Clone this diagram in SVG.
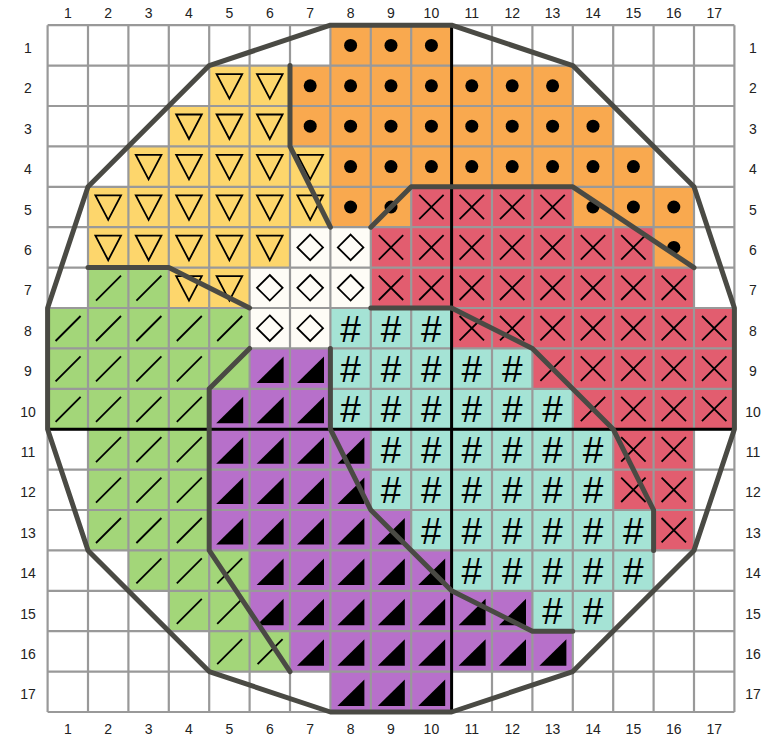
<svg xmlns="http://www.w3.org/2000/svg" xmlns:xlink="http://www.w3.org/1999/xlink" width="779" height="739" viewBox="0 0 779 739">
<style>
.o{fill:#F9A94F}.y{fill:#FDD66C}.r{fill:#E25D6F}.g{fill:#A3D679}.p{fill:#B770CA}.t{fill:#A5E3D5}.w{fill:#FEFCF6}
.ol{fill:none;stroke:#000;stroke-width:1.8;stroke-linejoin:miter}
.ln{fill:none;stroke:#000;stroke-width:1.8}
.grid{fill:none;stroke:#999;stroke-width:2.2}
.axis{fill:none;stroke:#000;stroke-width:3}
.bd{fill:none;stroke:#4A4A44;stroke-width:5;stroke-linejoin:round;stroke-linecap:round}
.h{font-family:"Liberation Sans",Arial,sans-serif;font-size:37px;text-anchor:middle;fill:#000}
.lb{font-family:"Liberation Sans",Arial,sans-serif;font-size:14px;text-anchor:middle;fill:#222}
</style>
<defs>
<circle id="dot" cx="20.2" cy="20.2" r="6.5" fill="#000"/>
<polygon id="tri" class="ol" points="7.4,8.5 33,8.5 20.2,33"/>
<path id="xx" class="ln" d="M8,8L32.4,32.4M32.4,8L8,32.4"/>
<path id="sl" class="ln" d="M8,33L33,8"/>
<polygon id="rt" points="7,34.5 34,34.5 34,8" fill="#000"/>
<polygon id="dm" class="ol" points="20.2,7.4 33,20.2 20.2,33 7.4,20.2"/>
</defs>
<rect width="779" height="739" fill="#fff"/>
<g id="fills">
<rect class="o" x="330.4" y="25.2" width="121.2" height="40.4"/>
<rect class="y" x="209.2" y="65.6" width="80.8" height="40.4"/><rect class="o" x="290" y="65.6" width="282.8" height="40.4"/>
<rect class="y" x="168.8" y="106" width="121.2" height="40.4"/><rect class="o" x="290" y="106" width="323.2" height="40.4"/>
<rect class="y" x="128.4" y="146.4" width="202" height="40.4"/><rect class="o" x="330.4" y="146.4" width="323.2" height="40.4"/>
<rect class="y" x="88" y="186.8" width="242.4" height="40.4"/><rect class="o" x="330.4" y="186.8" width="80.8" height="40.4"/><rect class="r" x="411.2" y="186.8" width="161.6" height="40.4"/><rect class="o" x="572.8" y="186.8" width="121.2" height="40.4"/>
<rect class="y" x="88" y="227.2" width="202" height="40.4"/><rect class="w" x="290" y="227.2" width="80.8" height="40.4"/><rect class="r" x="370.8" y="227.2" width="282.8" height="40.4"/><rect class="o" x="653.6" y="227.2" width="40.4" height="40.4"/>
<rect class="g" x="88" y="267.6" width="80.8" height="40.4"/><rect class="y" x="168.8" y="267.6" width="80.8" height="40.4"/><rect class="w" x="249.6" y="267.6" width="121.2" height="40.4"/><rect class="r" x="370.8" y="267.6" width="323.2" height="40.4"/>
<rect class="g" x="47.6" y="308" width="202" height="40.4"/><rect class="w" x="249.6" y="308" width="80.8" height="40.4"/><rect class="t" x="330.4" y="308" width="121.2" height="40.4"/><rect class="r" x="451.6" y="308" width="282.8" height="40.4"/>
<rect class="g" x="47.6" y="348.4" width="202" height="40.4"/><rect class="p" x="249.6" y="348.4" width="80.8" height="40.4"/><rect class="t" x="330.4" y="348.4" width="202" height="40.4"/><rect class="r" x="532.4" y="348.4" width="202" height="40.4"/>
<rect class="g" x="47.6" y="388.8" width="161.6" height="40.4"/><rect class="p" x="209.2" y="388.8" width="121.2" height="40.4"/><rect class="t" x="330.4" y="388.8" width="242.4" height="40.4"/><rect class="r" x="572.8" y="388.8" width="161.6" height="40.4"/>
<rect class="g" x="88" y="429.2" width="121.2" height="40.4"/><rect class="p" x="209.2" y="429.2" width="161.6" height="40.4"/><rect class="t" x="370.8" y="429.2" width="242.4" height="40.4"/><rect class="r" x="613.2" y="429.2" width="80.8" height="40.4"/>
<rect class="g" x="88" y="469.6" width="121.2" height="40.4"/><rect class="p" x="209.2" y="469.6" width="161.6" height="40.4"/><rect class="t" x="370.8" y="469.6" width="242.4" height="40.4"/><rect class="r" x="613.2" y="469.6" width="80.8" height="40.4"/>
<rect class="g" x="88" y="510" width="121.2" height="40.4"/><rect class="p" x="209.2" y="510" width="202" height="40.4"/><rect class="t" x="411.2" y="510" width="242.4" height="40.4"/><rect class="r" x="653.6" y="510" width="40.4" height="40.4"/>
<rect class="g" x="128.4" y="550.4" width="121.2" height="40.4"/><rect class="p" x="249.6" y="550.4" width="202" height="40.4"/><rect class="t" x="451.6" y="550.4" width="202" height="40.4"/>
<rect class="g" x="168.8" y="590.8" width="80.8" height="40.4"/><rect class="p" x="249.6" y="590.8" width="282.8" height="40.4"/><rect class="t" x="532.4" y="590.8" width="80.8" height="40.4"/>
<rect class="g" x="209.2" y="631.2" width="80.8" height="40.4"/><rect class="p" x="290" y="631.2" width="282.8" height="40.4"/>
<rect class="p" x="330.4" y="671.6" width="121.2" height="40.4"/>
</g>
<path id="grid" class="grid" d="M47.6,25.2V712M88,25.2V712M128.4,25.2V712M168.8,25.2V712M209.2,25.2V712M249.6,25.2V712M290,25.2V712M330.4,25.2V712M370.8,25.2V712M411.2,25.2V712M451.6,25.2V712M492,25.2V712M532.4,25.2V712M572.8,25.2V712M613.2,25.2V712M653.6,25.2V712M694,25.2V712M734.4,25.2V712M47.6,25.2H734.4M47.6,65.6H734.4M47.6,106H734.4M47.6,146.4H734.4M47.6,186.8H734.4M47.6,227.2H734.4M47.6,267.6H734.4M47.6,308H734.4M47.6,348.4H734.4M47.6,388.8H734.4M47.6,429.2H734.4M47.6,469.6H734.4M47.6,510H734.4M47.6,550.4H734.4M47.6,590.8H734.4M47.6,631.2H734.4M47.6,671.6H734.4M47.6,712H734.4"/>
<g id="orange-dots">
<use href="#dot" x="330.4" y="25.2"/><use href="#dot" x="370.8" y="25.2"/><use href="#dot" x="411.2" y="25.2"/>
<use href="#dot" x="290" y="65.6"/><use href="#dot" x="330.4" y="65.6"/><use href="#dot" x="370.8" y="65.6"/><use href="#dot" x="411.2" y="65.6"/><use href="#dot" x="451.6" y="65.6"/><use href="#dot" x="492" y="65.6"/><use href="#dot" x="532.4" y="65.6"/>
<use href="#dot" x="290" y="106"/><use href="#dot" x="330.4" y="106"/><use href="#dot" x="370.8" y="106"/><use href="#dot" x="411.2" y="106"/><use href="#dot" x="451.6" y="106"/><use href="#dot" x="492" y="106"/><use href="#dot" x="532.4" y="106"/><use href="#dot" x="572.8" y="106"/>
<use href="#dot" x="330.4" y="146.4"/><use href="#dot" x="370.8" y="146.4"/><use href="#dot" x="411.2" y="146.4"/><use href="#dot" x="451.6" y="146.4"/><use href="#dot" x="492" y="146.4"/><use href="#dot" x="532.4" y="146.4"/><use href="#dot" x="572.8" y="146.4"/><use href="#dot" x="613.2" y="146.4"/>
<use href="#dot" x="330.4" y="186.8"/><use href="#dot" x="370.8" y="186.8"/><use href="#dot" x="572.8" y="186.8"/><use href="#dot" x="613.2" y="186.8"/><use href="#dot" x="653.6" y="186.8"/>
<use href="#dot" x="653.6" y="227.2"/>
</g>
<g id="yellow-triangles">
<use href="#tri" x="209.2" y="65.6"/><use href="#tri" x="249.6" y="65.6"/>
<use href="#tri" x="168.8" y="106"/><use href="#tri" x="209.2" y="106"/><use href="#tri" x="249.6" y="106"/>
<use href="#tri" x="128.4" y="146.4"/><use href="#tri" x="168.8" y="146.4"/><use href="#tri" x="209.2" y="146.4"/><use href="#tri" x="249.6" y="146.4"/><use href="#tri" x="290" y="146.4"/>
<use href="#tri" x="88" y="186.8"/><use href="#tri" x="128.4" y="186.8"/><use href="#tri" x="168.8" y="186.8"/><use href="#tri" x="209.2" y="186.8"/><use href="#tri" x="249.6" y="186.8"/><use href="#tri" x="290" y="186.8"/>
<use href="#tri" x="88" y="227.2"/><use href="#tri" x="128.4" y="227.2"/><use href="#tri" x="168.8" y="227.2"/><use href="#tri" x="209.2" y="227.2"/><use href="#tri" x="249.6" y="227.2"/>
<use href="#tri" x="168.8" y="267.6"/><use href="#tri" x="209.2" y="267.6"/>
</g>
<g id="white-diamonds">
<use href="#dm" x="290" y="227.2"/><use href="#dm" x="330.4" y="227.2"/>
<use href="#dm" x="249.6" y="267.6"/><use href="#dm" x="290" y="267.6"/><use href="#dm" x="330.4" y="267.6"/>
<use href="#dm" x="249.6" y="308"/><use href="#dm" x="290" y="308"/>
</g>
<g id="red-crosses">
<use href="#xx" x="411.2" y="186.8"/><use href="#xx" x="451.6" y="186.8"/><use href="#xx" x="492" y="186.8"/><use href="#xx" x="532.4" y="186.8"/>
<use href="#xx" x="370.8" y="227.2"/><use href="#xx" x="411.2" y="227.2"/><use href="#xx" x="451.6" y="227.2"/><use href="#xx" x="492" y="227.2"/><use href="#xx" x="532.4" y="227.2"/><use href="#xx" x="572.8" y="227.2"/><use href="#xx" x="613.2" y="227.2"/>
<use href="#xx" x="370.8" y="267.6"/><use href="#xx" x="411.2" y="267.6"/><use href="#xx" x="451.6" y="267.6"/><use href="#xx" x="492" y="267.6"/><use href="#xx" x="532.4" y="267.6"/><use href="#xx" x="572.8" y="267.6"/><use href="#xx" x="613.2" y="267.6"/><use href="#xx" x="653.6" y="267.6"/>
<use href="#xx" x="451.6" y="308"/><use href="#xx" x="492" y="308"/><use href="#xx" x="532.4" y="308"/><use href="#xx" x="572.8" y="308"/><use href="#xx" x="613.2" y="308"/><use href="#xx" x="653.6" y="308"/><use href="#xx" x="694" y="308"/>
<use href="#xx" x="532.4" y="348.4"/><use href="#xx" x="572.8" y="348.4"/><use href="#xx" x="613.2" y="348.4"/><use href="#xx" x="653.6" y="348.4"/><use href="#xx" x="694" y="348.4"/>
<use href="#xx" x="572.8" y="388.8"/><use href="#xx" x="613.2" y="388.8"/><use href="#xx" x="653.6" y="388.8"/><use href="#xx" x="694" y="388.8"/>
<use href="#xx" x="613.2" y="429.2"/><use href="#xx" x="653.6" y="429.2"/>
<use href="#xx" x="613.2" y="469.6"/><use href="#xx" x="653.6" y="469.6"/>
<use href="#xx" x="653.6" y="510"/>
</g>
<g id="green-slashes">
<use href="#sl" x="88" y="267.6"/><use href="#sl" x="128.4" y="267.6"/>
<use href="#sl" x="47.6" y="308"/><use href="#sl" x="88" y="308"/><use href="#sl" x="128.4" y="308"/><use href="#sl" x="168.8" y="308"/><use href="#sl" x="209.2" y="308"/>
<use href="#sl" x="47.6" y="348.4"/><use href="#sl" x="88" y="348.4"/><use href="#sl" x="128.4" y="348.4"/><use href="#sl" x="168.8" y="348.4"/><use href="#sl" x="209.2" y="348.4"/>
<use href="#sl" x="47.6" y="388.8"/><use href="#sl" x="88" y="388.8"/><use href="#sl" x="128.4" y="388.8"/><use href="#sl" x="168.8" y="388.8"/>
<use href="#sl" x="88" y="429.2"/><use href="#sl" x="128.4" y="429.2"/><use href="#sl" x="168.8" y="429.2"/>
<use href="#sl" x="88" y="469.6"/><use href="#sl" x="128.4" y="469.6"/><use href="#sl" x="168.8" y="469.6"/>
<use href="#sl" x="88" y="510"/><use href="#sl" x="128.4" y="510"/><use href="#sl" x="168.8" y="510"/>
<use href="#sl" x="128.4" y="550.4"/><use href="#sl" x="168.8" y="550.4"/><use href="#sl" x="209.2" y="550.4"/>
<use href="#sl" x="168.8" y="590.8"/><use href="#sl" x="209.2" y="590.8"/>
<use href="#sl" x="209.2" y="631.2"/><use href="#sl" x="249.6" y="631.2"/>
</g>
<g id="purple-triangles">
<use href="#rt" x="249.6" y="348.4"/><use href="#rt" x="290" y="348.4"/>
<use href="#rt" x="209.2" y="388.8"/><use href="#rt" x="249.6" y="388.8"/><use href="#rt" x="290" y="388.8"/>
<use href="#rt" x="209.2" y="429.2"/><use href="#rt" x="249.6" y="429.2"/><use href="#rt" x="290" y="429.2"/><use href="#rt" x="330.4" y="429.2"/>
<use href="#rt" x="209.2" y="469.6"/><use href="#rt" x="249.6" y="469.6"/><use href="#rt" x="290" y="469.6"/><use href="#rt" x="330.4" y="469.6"/>
<use href="#rt" x="209.2" y="510"/><use href="#rt" x="249.6" y="510"/><use href="#rt" x="290" y="510"/><use href="#rt" x="330.4" y="510"/><use href="#rt" x="370.8" y="510"/>
<use href="#rt" x="249.6" y="550.4"/><use href="#rt" x="290" y="550.4"/><use href="#rt" x="330.4" y="550.4"/><use href="#rt" x="370.8" y="550.4"/><use href="#rt" x="411.2" y="550.4"/>
<use href="#rt" x="249.6" y="590.8"/><use href="#rt" x="290" y="590.8"/><use href="#rt" x="330.4" y="590.8"/><use href="#rt" x="370.8" y="590.8"/><use href="#rt" x="411.2" y="590.8"/><use href="#rt" x="451.6" y="590.8"/><use href="#rt" x="492" y="590.8"/>
<use href="#rt" x="290" y="631.2"/><use href="#rt" x="330.4" y="631.2"/><use href="#rt" x="370.8" y="631.2"/><use href="#rt" x="411.2" y="631.2"/><use href="#rt" x="451.6" y="631.2"/><use href="#rt" x="492" y="631.2"/><use href="#rt" x="532.4" y="631.2"/>
<use href="#rt" x="330.4" y="671.6"/><use href="#rt" x="370.8" y="671.6"/><use href="#rt" x="411.2" y="671.6"/>
</g>
<g id="teal-hashes" class="h">
<text x="350.6" y="341.5">#</text><text x="391" y="341.5">#</text><text x="431.4" y="341.5">#</text>
<text x="350.6" y="381.9">#</text><text x="391" y="381.9">#</text><text x="431.4" y="381.9">#</text><text x="471.8" y="381.9">#</text><text x="512.2" y="381.9">#</text>
<text x="350.6" y="422.3">#</text><text x="391" y="422.3">#</text><text x="431.4" y="422.3">#</text><text x="471.8" y="422.3">#</text><text x="512.2" y="422.3">#</text><text x="552.6" y="422.3">#</text>
<text x="391" y="462.7">#</text><text x="431.4" y="462.7">#</text><text x="471.8" y="462.7">#</text><text x="512.2" y="462.7">#</text><text x="552.6" y="462.7">#</text><text x="593" y="462.7">#</text>
<text x="391" y="503.1">#</text><text x="431.4" y="503.1">#</text><text x="471.8" y="503.1">#</text><text x="512.2" y="503.1">#</text><text x="552.6" y="503.1">#</text><text x="593" y="503.1">#</text>
<text x="431.4" y="543.5">#</text><text x="471.8" y="543.5">#</text><text x="512.2" y="543.5">#</text><text x="552.6" y="543.5">#</text><text x="593" y="543.5">#</text><text x="633.4" y="543.5">#</text>
<text x="471.8" y="583.9">#</text><text x="512.2" y="583.9">#</text><text x="552.6" y="583.9">#</text><text x="593" y="583.9">#</text><text x="633.4" y="583.9">#</text>
<text x="552.6" y="624.3">#</text><text x="593" y="624.3">#</text>
</g>
<g id="axes" class="axis">
<path d="M451.6,25.2V712"/>
<path d="M47.6,429.2H734.4"/>
</g>
<g id="connectors" class="bd">
<polygon id="outline" points="330.4,25.2 451.6,25.2 572.8,65.6 694,186.8 734.4,308 734.4,429.2 694,550.4 572.8,671.6 451.6,712 330.4,712 209.2,671.6 88,550.4 47.6,429.2 47.6,308 88,186.8 209.2,65.6"/>
<polyline points="290,65.6 290,146.4 330.4,227.2"/>
<polyline points="370.8,227.2 411.2,186.8 572.8,186.8 694,267.6"/>
<polyline points="88,267.6 168.8,267.6 249.6,308"/>
<polyline points="249.6,348.4 209.2,388.8 209.2,550.4 290,671.6"/>
<polyline points="330.4,348.4 330.4,429.2 370.8,510 451.6,590.8 532.4,631.2 572.8,631.2"/>
<polyline points="370.8,308 451.6,308 532.4,348.4 613.2,429.2 653.6,510 653.6,550.4"/>
</g>
<g id="col-labels-top" class="lb">
<text x="67.8" y="18">1</text><text x="108.2" y="18">2</text><text x="148.6" y="18">3</text><text x="189" y="18">4</text><text x="229.4" y="18">5</text><text x="269.8" y="18">6</text><text x="310.2" y="18">7</text><text x="350.6" y="18">8</text><text x="391" y="18">9</text><text x="431.4" y="18">10</text><text x="471.8" y="18">11</text><text x="512.2" y="18">12</text><text x="552.6" y="18">13</text><text x="593" y="18">14</text><text x="633.4" y="18">15</text><text x="673.8" y="18">16</text><text x="714.2" y="18">17</text>
</g>
<g id="col-labels-bottom" class="lb">
<text x="67.8" y="734">1</text><text x="108.2" y="734">2</text><text x="148.6" y="734">3</text><text x="189" y="734">4</text><text x="229.4" y="734">5</text><text x="269.8" y="734">6</text><text x="310.2" y="734">7</text><text x="350.6" y="734">8</text><text x="391" y="734">9</text><text x="431.4" y="734">10</text><text x="471.8" y="734">11</text><text x="512.2" y="734">12</text><text x="552.6" y="734">13</text><text x="593" y="734">14</text><text x="633.4" y="734">15</text><text x="673.8" y="734">16</text><text x="714.2" y="734">17</text>
</g>
<g id="row-labels-left" class="lb">
<text x="28" y="52.9">1</text><text x="28" y="93.3">2</text><text x="28" y="133.7">3</text><text x="28" y="174.1">4</text><text x="28" y="214.5">5</text><text x="28" y="254.9">6</text><text x="28" y="295.3">7</text><text x="28" y="335.7">8</text><text x="28" y="376.1">9</text><text x="28" y="416.5">10</text><text x="28" y="456.9">11</text><text x="28" y="497.3">12</text><text x="28" y="537.7">13</text><text x="28" y="578.1">14</text><text x="28" y="618.5">15</text><text x="28" y="658.9">16</text><text x="28" y="699.3">17</text>
</g>
<g id="row-labels-right" class="lb">
<text x="753" y="52.9">1</text><text x="753" y="93.3">2</text><text x="753" y="133.7">3</text><text x="753" y="174.1">4</text><text x="753" y="214.5">5</text><text x="753" y="254.9">6</text><text x="753" y="295.3">7</text><text x="753" y="335.7">8</text><text x="753" y="376.1">9</text><text x="753" y="416.5">10</text><text x="753" y="456.9">11</text><text x="753" y="497.3">12</text><text x="753" y="537.7">13</text><text x="753" y="578.1">14</text><text x="753" y="618.5">15</text><text x="753" y="658.9">16</text><text x="753" y="699.3">17</text>
</g>
</svg>
